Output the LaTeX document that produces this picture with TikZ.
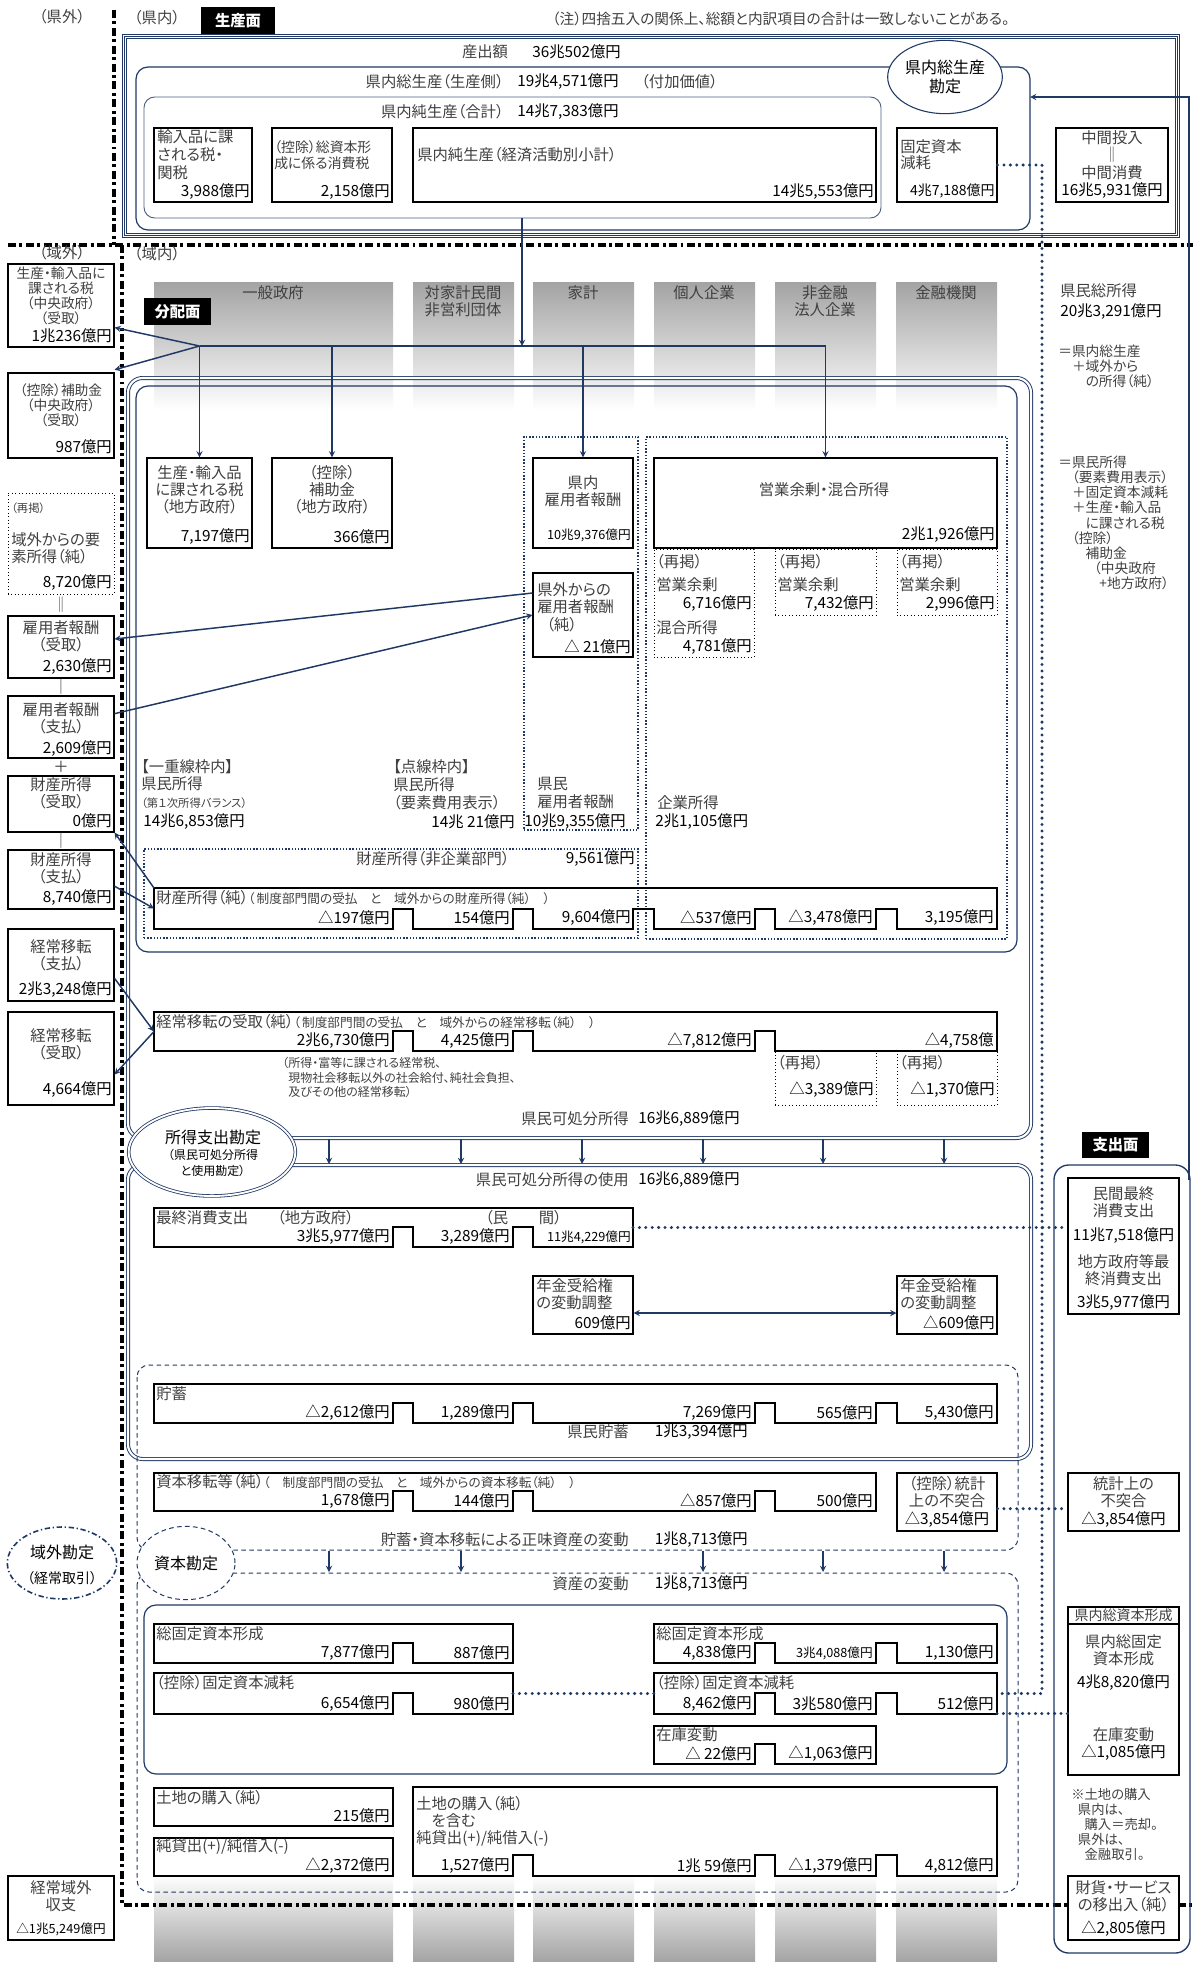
\documentclass[tikz,border=0pt]{standalone}
\usepackage{fontspec}
\setmainfont{Noto Sans CJK JP}[RawFeature=+palt]
\usetikzlibrary{fit,shapes.geometric}
\definecolor{navy}{HTML}{1F3864}
\definecolor{labelgray}{HTML}{404040}
\newcommand{\colshade}{black!36!white}
\newcommand{\fs}{\fontsize{11.5}{13.5}\selectfont}
\newcommand{\sm}{\fontsize{9.5}{11}\selectfont}
\newcommand{\xs}{\fontsize{9.5}{11}\selectfont}
\newcommand{\nt}{\fontsize{10.3}{11.3}\selectfont}
% plain box from corner to corner (px)
\newcommand{\rbox}[6][wbox]{\node[#1, fit={(#3,#4) (#5,#6)}] (#2) {};}
% box whose lower edge steps up at the column gaps
\newcommand{\notchbox}[7]{%
  \draw[boxline] (#2,#4) -- (#2,#6)
    \foreach \gl/\gr in {#7} { -- (\gl,#6) -- (\gl,#5) -- (\gr,#5) -- (\gr,#6) }
    -- (#3,#6) -- (#3,#4) -- cycle;
  \coordinate (#1-nw) at (#2,#4);
  \coordinate (#1-w) at (#2,{(#4+#6)/2});
  \coordinate (#1-e) at (#3,{(#4+#6)/2});}
% amounts, right-aligned in their cells
\newcommand{\amounts}[3]{%
  \foreach \amx/\amt [count=\ami] in {#3}
    \node[val, anchor=east] (#1v\ami) at (\amx,#2) {\amt};}

\tikzset{
  every node/.style={font=\fs, inner sep=0pt, text=labelgray},
  val/.style={text=black},
  boxline/.style={draw=black, line width=0.8pt},
  wbox/.style={boxline, fill=white},
  dotbox/.style={draw=black, line width=0.6pt, dotted},
  navydot/.style={draw=navy, line width=1.1pt, dash pattern=on 1.1pt off 1.3pt},
  bigdot/.style={draw=navy, line width=2.5pt, line cap=round, dash pattern=on 0pt off 4.8pt},
  flow/.style={draw=navy, line width=1.1pt},
  dframe/.style={draw=navy, double=white, double distance=1.6pt, line width=0.7pt, rounded corners=11pt},
  dashframe/.style={draw=navy, line width=0.75pt, dash pattern=on 3.5pt off 2.5pt, rounded corners=9pt},
  zoneline/.style={draw=black, line width=2.4pt, dash pattern=on 6pt off 2.6pt on 2.2pt off 2.6pt},
  tag/.style={fill=black, text=white, font=\fs\bfseries, minimum height=20pt},
  twoline/.style={align=center, font=\fontsize{11.5}{12.75}\selectfont},
}

\begin{document}
\begin{tikzpicture}[x=0.75pt, y=-0.75pt, >=stealth]
\useasboundingbox (0,0) rectangle (1193,1962);

% sector columns, shaded at the top and at the bottom
\foreach \cl/\cr in {154/393, 413/514, 533/634, 654/755, 775/876, 896/997} {
  \shade[top color=\colshade, bottom color=white] (\cl,282) rectangle (\cr,410);
  \shade[top color=white, bottom color=\colshade] (\cl,1875) rectangle (\cr,1962);
}
\node (secGov) at (273,293) {一般政府};
\node[twoline] (secNpi) at (463,301) {対家計民間\\非営利団体};
\node (secHh) at (583,293) {家計};
\node (secPe) at (704,293) {個人企業};
\node[twoline] (secNfc) at (825,301) {非金融\\法人企業};
\node (secFc) at (946,293) {金融機関};

% region borders
\draw[zoneline] (114,10) -- (114,245);
\draw[zoneline] (8,245) -- (1193,245);
\draw[zoneline] (122,245) -- (122,1905) -- (1193,1905);
\node (outTop) at (62,17) {（県外）};
\node (inTop) at (157,18) {（県内）};
\node (outBot) at (62,253) {（域外）};
\node (inBot) at (157,254) {（域内）};
\node[tag, minimum width=55.5pt] (prodTag) at (238,20.5) {生産面};
\node[anchor=west, font=\fontsize{11}{13}\selectfont] (note) at (552,19) {（注）四捨五入の関係上、総額と内訳項目の合計は一致しないことがある。};

% production side
\draw[navy, line width=4.3pt] (124.5,36.5) rectangle (1177.5,235.5);
\draw[white, line width=2.6pt] (124.5,36.5) rectangle (1177.5,235.5);
\draw[navy, line width=0.7pt] (124.5,36.5) rectangle (1177.5,235.5);
\draw[navy, line width=0.9pt, rounded corners=9pt] (136,67) rectangle (1030,230);
\draw[navy!80, line width=0.7pt, rounded corners=8pt] (144,97) rectangle (881,218);
\node (outLbl) at (485,52) {産出額};
\node[val, anchor=west] (outVal) at (532,52) {36兆502億円};
\node[anchor=east] (gdpLbl) at (504,82) {県内総生産（生産側）};
\node[val, anchor=west] (gdpVal) at (517,82) {19兆4,571億円};
\node[anchor=west] (gdpNote) at (641,82) {（付加価値）};
\node[anchor=east] (ndpLbl) at (504,112) {県内純生産（合計）};
\node[val, anchor=west] (ndpVal) at (517,112) {14兆7,383億円};

\rbox{imp}{154}{128}{252}{202}
\node[anchor=north west, align=left] (impT) at (157,129.5) {輸入品に課\\される税・\\関税};
\node[val, anchor=east] (impV) at (250,192) {3,988億円};
\rbox{gfcTax}{272}{128}{392}{202}
\node[anchor=north west, align=left, font=\fontsize{10.4}{12}\selectfont] (gfcTaxT) at (274,140) {（控除）総資本形\\成に係る消費税};
\node[val, anchor=east] (gfcTaxV) at (390,192) {2,158億円};
\rbox{netp}{413}{128}{876}{202}
\node[anchor=west] (netpT) at (417,155) {県内純生産（経済活動別小計）};
\node[val, anchor=east] (netpV) at (874,192) {14兆5,553億円};
\rbox{depr}{897}{128}{997}{202}
\node[anchor=north west, align=left, font=\fontsize{11.5}{12}\selectfont] (deprT) at (900,139.5) {固定資本\\減耗};
\node[val, anchor=east, font=\fontsize{10.5}{12}\selectfont] (deprV) at (995,191) {4兆7,188億円};
\rbox{midi}{1056}{128}{1168}{202}
\node[twoline, font=\fontsize{11.5}{13.2}\selectfont] (midiT) at (1112,155) {中間投入\\‖\\中間消費};
\node[val] (midiV) at (1112,191) {16兆5,931億円};
\node[ellipse, draw=navy, line width=0.8pt, fill=white, minimum width=86pt, minimum height=55pt,
  align=center, font=\fontsize{12}{14.3}\selectfont, text=black] (gdpAcc) at (945,77) {県内総生産\\勘定};

% outside the prefecture
\rbox{gTax}{8}{264}{114}{347}
\node[align=center, font=\nt] (gTaxT) at (61,296) {生産・輸入品に\\課される税\\（中央政府）\\（受取）};
\node[val, anchor=east] (gTaxV) at (112,336) {1兆236億円};
\rbox{gSub}{8}{373}{114}{458}
\node[align=center, font=\nt] (gSubT) at (61,405) {（控除）補助金\\（中央政府）\\（受取）};
\node[val, anchor=east] (gSubV) at (112,447) {987億円};
\rbox[dotbox]{gFac}{8}{493}{114}{594}
\node[anchor=west, font=\fontsize{8.5}{10}\selectfont] (gFacH) at (11,508) {（再掲）};
\node[anchor=north west, align=left, font=\fontsize{11.5}{12.75}\selectfont] (gFacT) at (11,532) {域外からの要\\素所得（純）};
\node[val, anchor=east] (gFacV) at (112,583) {8,720億円};
\node (eqA) at (61,605) {‖};
\rbox{gCompR}{8}{616}{114}{678}
\node[twoline] (gCompRT) at (61,636.5) {雇用者報酬\\（受取）};
\node[val, anchor=east] (gCompRV) at (112,667) {2,630億円};
\node (minA) at (61,687) {｜};
\rbox{gCompP}{8}{696}{114}{758}
\node[twoline] (gCompPT) at (61,718.5) {雇用者報酬\\（支払）};
\node[val, anchor=east] (gCompPV) at (112,749) {2,609億円};
\node (plusA) at (61,767) {＋};
\rbox{gPropR}{8}{776}{114}{832}
\node[twoline] (gPropRT) at (61,793.5) {財産所得\\（受取）};
\node[val, anchor=east] (gPropRV) at (112,821) {0億円};
\node (minB) at (61,841) {｜};
\rbox{gPropP}{8}{850}{114}{909}
\node[twoline] (gPropPT) at (61,868.5) {財産所得\\（支払）};
\node[val, anchor=east] (gPropPV) at (112,898) {8,740億円};
\rbox{gTrP}{8}{929}{114}{1001}
\node[twoline] (gTrPT) at (61,955) {経常移転\\（支払）};
\node[val, anchor=east] (gTrPV) at (112,990) {2兆3,248億円};
\rbox{gTrR}{8}{1012}{114}{1105}
\node[twoline] (gTrRT) at (61,1044) {経常移転\\（受取）};
\node[val, anchor=east] (gTrRV) at (112,1090) {4,664億円};
\node[ellipse, draw=navy, line width=1.2pt, dash pattern=on 4pt off 2pt on 1pt off 2pt,
  minimum width=82pt, minimum height=54pt] (extAcc) at (62,1563) {};
\node[text=black, font=\fontsize{12}{14}\selectfont] (extAccT) at (62,1552) {域外勘定};
\node[text=black, font=\fontsize{10.5}{12}\selectfont] (extAccS) at (62,1578) {（経常取引）};
\rbox{gBal}{8}{1876}{114}{1940}
\node[twoline] (gBalT) at (61,1896.5) {経常域外\\収支};
\node[val, font=\sm] (gBalV) at (61,1929) {△1兆5,249億円};

% distribution side
\node[tag, minimum width=50pt] (distTag) at (177.5,311.5) {分配面};
\draw[dframe] (128,378) rectangle (1031,1138);
\draw[navy, line width=0.9pt, rounded corners=9pt] (136,386) rectangle (1017,952);
\rbox[navydot]{hhDot}{524}{437}{638}{830}
\rbox[navydot]{entDot}{646}{437}{1007}{939}
\rbox[navydot]{propDot}{144}{849}{638}{938}

\rbox{lTax}{147}{458}{252}{548}
\node[align=center, font=\fontsize{11.5}{12.75}\selectfont] (lTaxT) at (199.5,490) {生産･輸入品\\に課される税\\（地方政府）};
\node[val, anchor=east] (lTaxV) at (250,537) {7,197億円};
\rbox{lSub}{272}{458}{392}{548}
\node[align=center, font=\fontsize{11.5}{12.75}\selectfont] (lSubT) at (332,490) {（控除）\\補助金\\（地方政府）};
\node[val, anchor=east] (lSubV) at (390,537) {366億円};
\rbox{cmpIn}{533}{458}{633}{548}
\node[twoline] (cmpInT) at (583,491) {県内\\雇用者報酬};
\node[val, anchor=east, font=\sm] (cmpInV) at (631,535) {10兆9,376億円};
\rbox{cmpOut}{533}{573}{633}{657}
\node[anchor=north west, align=left, font=\fontsize{11.5}{13.1}\selectfont] (cmpOutT) at (537,582) {県外からの\\雇用者報酬\\\hspace{0.6em}（純）};
\node[val, anchor=east] (cmpOutV) at (631,647) {△ 21億円};
\rbox{opSur}{654}{458}{997}{548}
\node (opSurT) at (824,490) {営業余剰・混合所得};
\node[val, anchor=east] (opSurV) at (995,535) {2兆1,926億円};
\rbox[dotbox]{reA}{654}{549}{754}{657}
\node[anchor=west] (reAh) at (656,562) {（再掲）};
\node[anchor=west] (reAl) at (656,585) {営業余剰};
\node[val, anchor=east] (reAv) at (752,604) {6,716億円};
\node[anchor=west] (reAm) at (656,628) {混合所得};
\node[val, anchor=east] (reAw) at (752,647) {4,781億円};
\rbox[dotbox]{reB}{775}{549}{876}{615}
\node[anchor=west] (reBh) at (777,562) {（再掲）};
\node[anchor=west] (reBl) at (777,585) {営業余剰};
\node[val, anchor=east] (reBv) at (874,604) {7,432億円};
\rbox[dotbox]{reC}{897}{549}{997}{615}
\node[anchor=west] (reCh) at (899,562) {（再掲）};
\node[anchor=west] (reCl) at (899,585) {営業余剰};
\node[val, anchor=east] (reCv) at (995,604) {2,996億円};

\node[anchor=north west, align=left, font=\fontsize{11.5}{13}\selectfont] (priA) at (141,759) {【一重線枠内】\\県民所得};
\node[anchor=west, font=\fontsize{8.5}{10}\selectfont] (priB) at (141,803) {（第１次所得バランス）};
\node[val, anchor=west] (priV) at (143,822) {14兆6,853億円};
\node[anchor=north west, align=left, font=\fontsize{11.5}{13.5}\selectfont] (priC) at (393,759) {【点線枠内】\\県民所得\\（要素費用表示）};
\node[val, anchor=east] (priD) at (515,822) {14兆 21億円};
\node[anchor=north west, align=left] (hhLbl) at (537,777) {県民\\雇用者報酬};
\node[val, anchor=west] (hhV) at (524,822) {10兆9,355億円};
\node[anchor=west] (entLbl) at (657,803) {企業所得};
\node[val, anchor=west] (entV) at (655,822) {2兆1,105億円};
\node[anchor=west] (propNfLbl) at (356,859) {財産所得（非企業部門）};
\node[val, anchor=east] (propNfV) at (635,859) {9,561億円};

\notchbox{prop}{154}{997}{888}{909}{929}{393/413,513/533,633/654,755/775,876/897}
\node[anchor=west] (propLbl) at (156,898) {財産所得（純）{\xs（\,制度部門間の受払　と　域外からの財産所得（純）　）}};
\amounts{prop}{918}{390/{△197億円},510/{154億円},631/{9,604億円},752/{△537億円},873/{△3,478億円},994/{3,195億円}}

\notchbox{trans}{154}{997}{1012}{1031}{1051}{393/413,513/533,755/775}
\node[anchor=west] (transLbl) at (156,1022) {経常移転の受取（純）{\xs（\,制度部門間の受払　と　域外からの経常移転（純）　）}};
\amounts{trans}{1041}{390/{2兆6,730億円},510/{4,425億円},752/{△7,812億円},994/{△4,758億}}
\rbox[dotbox]{reD}{775}{1051}{876}{1105}
\node[anchor=west] (reDh) at (777,1063) {（再掲）};
\node[val, anchor=east] (reDv) at (874,1090) {△3,389億円};
\rbox[dotbox]{reE}{897}{1051}{997}{1105}
\node[anchor=west] (reEh) at (899,1063) {（再掲）};
\node[val, anchor=east] (reEv) at (995,1090) {△1,370億円};
\node[anchor=north west, align=left, font=\fontsize{9}{10.9}\selectfont] (transNote) at (282,1057) {（所得・富等に課される経常税、\\\hspace{0.5em}現物社会移転以外の社会給付、純社会負担、\\\hspace{0.5em}及びその他の経常移転）};
\node[anchor=east] (dispLbl) at (629,1119) {県民可処分所得};
\node[val, anchor=west] (dispV) at (638,1119) {16兆6,889億円};

% use of disposable income
\draw[dframe] (128,1165) rectangle (1031,1459);
\node[anchor=east] (useLbl) at (629,1180) {県民可処分所得の使用};
\node[val, anchor=west] (useV) at (638,1180) {16兆6,889億円};
\notchbox{cons}{154}{633}{1208}{1227}{1247}{393/413,513/533}
\node[anchor=west] (consLbl) at (156,1218) {最終消費支出};
\node[anchor=west] (consGov) at (277,1218) {（地方政府）};
\node[anchor=west] (consPri) at (485,1218) {（民　　間）};
\amounts{cons}{1237}{390/{3兆5,977億円},510/{3,289億円},631/{\sm 11兆4,229億円}}
\rbox{penL}{533}{1276}{633}{1334}
\node[anchor=north west, align=left, font=\fontsize{11.5}{13.2}\selectfont] (penLT) at (536,1278) {年金受給権\\の変動調整};
\node[val, anchor=east] (penLV) at (631,1323) {609億円};
\rbox{penR}{897}{1276}{997}{1334}
\node[anchor=north west, align=left, font=\fontsize{11.5}{13.2}\selectfont] (penRT) at (900,1278) {年金受給権\\の変動調整};
\node[val, anchor=east] (penRV) at (995,1323) {△609億円};

% capital account
\draw[dashframe] (137,1365) rectangle (1018,1550);
\draw[dashframe] (137,1573) rectangle (1018,1892);
\draw[navy, line width=0.9pt, rounded corners=9pt] (144,1605) rectangle (1007,1774);
\notchbox{save}{154}{997}{1384}{1403}{1423}{393/413,513/533,755/775,876/897}
\node[anchor=west] (saveLbl) at (156,1394) {貯蓄};
\amounts{save}{1413}{390/{△2,612億円},510/{1,289億円},752/{7,269億円},873/{565億円},994/{5,430億円}}
\node[anchor=east] (saveHhLbl) at (629,1432) {県民貯蓄};
\node[val, anchor=east] (saveHhV) at (748,1432) {1兆3,394億円};
\notchbox{captr}{154}{876}{1473}{1491}{1511}{393/413,513/533,755/775}
\node[anchor=west] (captrLbl) at (156,1482) {資本移転等（純）{\xs（　制度部門間の受払　と　域外からの資本移転（純）　）}};
\amounts{captr}{1501}{390/{1,678億円},510/{144億円},752/{△857億円},873/{500億円}}
\rbox{stat}{897}{1473}{997}{1531}
\node[twoline] (statT) at (947,1492) {（控除）統計\\上の不突合};
\node[val] (statV) at (947,1520) {△3,854億円};
\node[anchor=east] (nwLbl) at (629,1540) {貯蓄・資本移転による正味資産の変動};
\node[val, anchor=east] (nwV) at (748,1540) {1兆8,713億円};
\node[anchor=east] (assetLbl) at (629,1584) {資産の変動};
\node[val, anchor=east] (assetV) at (748,1584) {1兆8,713億円};

\notchbox{gfcfL}{154}{513}{1624}{1643}{1663}{393/413}
\node[anchor=west] (gfcfLT) at (156,1634) {総固定資本形成};
\amounts{gfcfL}{1653}{390/{7,877億円},510/{887億円}}
\notchbox{gfcfR}{654}{997}{1624}{1643}{1663}{755/775,876/897}
\node[anchor=west] (gfcfRT) at (656,1634) {総固定資本形成};
\amounts{gfcfR}{1653}{752/{4,838億円},873/{\sm 3兆4,088億円},994/{1,130億円}}
\notchbox{depL}{154}{513}{1673}{1693}{1714}{393/413}
\node[anchor=west] (depLT) at (156,1683) {（控除）固定資本減耗};
\amounts{depL}{1704}{390/{6,654億円},510/{980億円}}
\notchbox{depR}{654}{997}{1673}{1693}{1714}{755/775,876/897}
\node[anchor=west] (depRT) at (656,1683) {（控除）固定資本減耗};
\amounts{depR}{1704}{752/{8,462億円},873/{3兆580億円},994/{512億円}}
\notchbox{inv}{654}{876}{1726}{1744}{1764}{755/775}
\node[anchor=west] (invT) at (656,1735) {在庫変動};
\amounts{inv}{1754}{752/{△ 22億円},873/{△1,063億円}}

\rbox{land}{154}{1788}{393}{1826}
\node[anchor=west] (landT) at (156,1798) {土地の購入（純）};
\node[val, anchor=east] (landV) at (390,1816) {215億円};
\rbox{lend}{154}{1838}{393}{1876}
\node[anchor=west] (lendT) at (156,1847) {純貸出(+)/純借入(-)};
\node[val, anchor=east] (lendV) at (390,1866) {△2,372億円};
\notchbox{landR}{413}{997}{1787}{1855}{1876}{513/533,755/775,876/897}
\node[anchor=north west, align=left, font=\fontsize{11.5}{12.75}\selectfont] (landRT) at (416,1796) {土地の購入（純）\\\hspace{1em}を含む\\純貸出(+)/純借入(-)};
\amounts{landR}{1866}{510/{1,527億円},752/{1兆 59億円},873/{△1,379億円},994/{4,812億円}}

% right-hand notes and expenditure side
\node[anchor=west] (gniLbl) at (1060,291) {県民総所得};
\node[val, anchor=west] (gniV) at (1060,312) {20兆3,291億円};
\node[anchor=north west, align=left, font=\fontsize{10.3}{11.3}\selectfont] (gniNote) at (1058,345) {＝県内総生産\\\hspace{1em}＋域外から\\\hspace{2em}の所得（純）};
\node[anchor=north west, align=left, font=\fontsize{10.3}{11.3}\selectfont] (niNote) at (1058,456) {＝県民所得\\\hspace{1em}（要素費用表示）\\\hspace{1em}＋固定資本減耗\\\hspace{1em}＋生産・輸入品\\\hspace{2em}に課される税\\\hspace{1em}（控除）\\\hspace{2em}補助金\\\hspace{2.6em}（中央政府\\\hspace{3em}+地方政府）};

\draw[navy, line width=1pt, rounded corners=11pt] (1054,1165) rectangle (1190,1953);
\node[tag, minimum width=50pt] (expTag) at (1115.5,1145) {支出面};
\rbox{pcons}{1068}{1178}{1179}{1314}
\node[twoline] (pconsT) at (1123.5,1202) {民間最終\\消費支出};
\node[val] (pconsV) at (1123.5,1236) {11兆7,518億円};
\node[twoline] (pconsG) at (1123.5,1270.5) {地方政府等最\\終消費支出};
\node[val] (pconsW) at (1123.5,1303) {3兆5,977億円};
\rbox{statR}{1068}{1473}{1179}{1531}
\node[twoline] (statRT) at (1123.5,1492) {統計上の\\不突合};
\node[val] (statRV) at (1123.5,1520) {△3,854億円};
\rbox{gcf}{1068}{1607}{1179}{1775}
\draw[boxline] (1068,1624) -- (1179,1624);
\node[font=\fontsize{10.5}{12}\selectfont] (gcfH) at (1123.5,1615.5) {県内総資本形成};
\node[twoline] (gcfT) at (1123.5,1650) {県内総固定\\資本形成};
\node[val] (gcfV) at (1123.5,1683) {4兆8,820億円};
\node (gcfI) at (1123.5,1735) {在庫変動};
\node[val] (gcfW) at (1123.5,1753) {△1,085億円};
\node[anchor=north west, align=left, font=\fontsize{10}{11.3}\selectfont] (landNote) at (1071,1788) {※土地の購入\\\hspace{0.5em}県内は、\\\hspace{1em}購入＝売却。\\\hspace{0.5em}県外は、\\\hspace{1em}金融取引。};
\rbox{trade}{1068}{1876}{1179}{1940}
\node[twoline] (tradeT) at (1123.5,1896.5) {財貨・サービス\\の移出入（純）};
\node[val] (tradeV) at (1123.5,1929) {△2,805億円};

% account ellipses
\node[ellipse, draw=navy, double=white, double distance=1.4pt, line width=0.6pt, fill=white,
  minimum width=125pt, minimum height=66pt] (incAcc) at (212,1152) {};
\node[text=black, font=\fontsize{12}{14}\selectfont] (incAccT) at (213,1137) {所得支出勘定};
\node[align=center, text=black, font=\fontsize{9}{12}\selectfont] (incAccS) at (213,1163) {（県民可処分所得\\と使用勘定）};
\node[ellipse, draw=navy, line width=0.75pt, dash pattern=on 3.5pt off 2.5pt, fill=white,
  minimum width=73.5pt, minimum height=55pt, text=black, font=\fontsize{12}{14}\selectfont] (capAcc) at (186,1563) {資本勘定};

% flows
\coordinate (netOut) at (522,218);
\coordinate (distBus) at (522,346);
\draw[flow,->] (netOut) -- (distBus);
\draw[flow] (lTax.north |- distBus) -- (opSur.north |- distBus);
\draw[flow,->] (lTax.north |- distBus) -- ([yshift=15pt]gTax.south east);
\draw[flow,->] (lTax.north |- distBus) -- ([yshift=2pt]gSub.north east);
\foreach \dst in {lTax, lSub, cmpIn, opSur}
  \draw[flow,->] (\dst.north |- distBus) -- (\dst.north);
\draw[flow,->] ([yshift=16.5pt]cmpOut.west) -- ([yshift=6pt]gCompR.east);
\draw[flow,->] ([yshift=10pt]gCompP.east) -- (cmpOut.west);
\draw[flow,->] (prop-nw) -- (gPropR.south east);
\draw[flow,->] ([yshift=-5pt]gPropP.east) -- (prop-w);
\draw[flow,->] ([yshift=-10pt]gTrP.east) -- (trans-w);
\draw[flow,->] (trans-w) -- ([yshift=-12pt]gTrR.east);
\coordinate (useTop) at (522,1164);
\foreach \x [count=\i] in {329,461,582,703,823,944} {
  \coordinate (dispo\i) at (\x,1139);
  \draw[flow,->] (dispo\i) -- (dispo\i |- useTop);
}
\draw[flow,<->] ([yshift=-6pt]penL.east) -- ([yshift=-6pt]penR.west);
\coordinate (assetTop) at (522,1572);
\foreach \x [count=\i] in {329,461,703,823,944} {
  \coordinate (capIn\i) at (\x,1551);
  \draw[flow,->] (capIn\i) -- (capIn\i |- assetTop);
}
\coordinate (expRise) at (1189,1180);
\coordinate (gdpIn) at (1030,97);
\draw[flow,->] (expRise) |- (gdpIn);

% dotted links between matching items
\coordinate (deprBus) at (1042,900);
\draw[bigdot] (depr.east) -| (deprBus) |- (depR-e);
\draw[bigdot] (cons-e) -- (cons-e -| pcons.west);
\draw[bigdot] ([yshift=-5pt]stat.east) -- ([yshift=-5pt]statR.west);
\draw[bigdot] (depL-e) -- (depR-w);
\draw[bigdot] ([yshift=-15pt]depR-e) -- ([yshift=-15pt]depR-e -| gcf.west);
\end{tikzpicture}
\end{document}
